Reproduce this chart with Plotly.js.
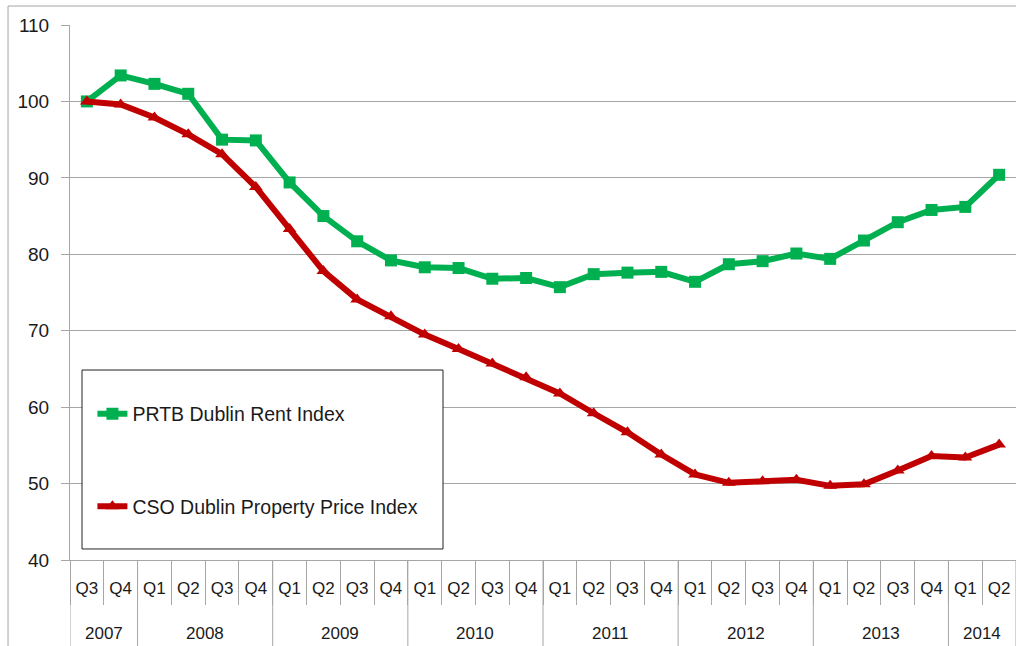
<!DOCTYPE html>
<html>
<head>
<meta charset="utf-8">
<script src="https://cdn.plot.ly/plotly-3.0.1.min.js"></script>
<style>html,body{margin:0;padding:0;background:#fff;}#chart{width:1016px;height:646px;}</style>
</head>
<body>
<div id="chart"></div>
<script>
const years = ['2007','2007','2008','2008','2008','2008','2009','2009','2009','2009','2010','2010','2010','2010','2011','2011','2011','2011','2012','2012','2012','2012','2013','2013','2013','2013','2014','2014'];
const quarters = ['Q3','Q4','Q1','Q2','Q3','Q4','Q1','Q2','Q3','Q4','Q1','Q2','Q3','Q4','Q1','Q2','Q3','Q4','Q1','Q2','Q3','Q4','Q1','Q2','Q3','Q4','Q1','Q2'];
const rentIndex = [100,103.4,102.3,101.0,95.0,94.9,89.4,85.0,81.7,79.2,78.3,78.2,76.8,76.9,75.7,77.4,77.6,77.7,76.4,78.7,79.1,80.1,79.4,81.8,84.2,85.8,86.2,90.4];
const priceIndex = [100,99.6,97.9,95.7,93.1,88.8,83.3,77.8,74.1,71.9,69.5,67.6,65.7,63.9,61.8,59.2,56.7,53.8,51.2,50.1,50.3,50.5,49.7,49.9,51.7,53.6,53.4,55.1];
const rentName = 'PRTB Dublin Rent Index';
const priceName = 'CSO Dublin Property Price Index';
const yTicks = [40,50,60,70,80,90,100,110];

const font = 'Liberation Sans, Arial, sans-serif';
const textColor = '#1a1a1a';
const axisGray = '#a6a6a6';
const idx = quarters.map((q, i) => i);

// category boundaries (quarter separators) and year groups, derived from the arrays
const quarterBounds = idx.map(i => i - 0.5).concat([idx.length - 0.5]);
const yearGroups = [];
years.forEach((y, i) => {
  const g = yearGroups[yearGroups.length - 1];
  if (g && g.year === y) g.last = i; else yearGroups.push({year: y, first: i, last: i});
});
const yearBounds = yearGroups.map(g => g.first - 0.5).concat([idx.length - 0.5]);

const yearLabels = yearGroups.map(g => ({
  x: (g.first + g.last) / 2, xref: 'x', y: -0.137, yref: 'paper', yanchor: 'middle',
  text: g.year, showarrow: false, font: {family: font, size: 17, color: textColor}
}));
const yearDividers = yearBounds.map(b => ({
  type: 'line', xref: 'x', yref: 'paper', x0: b, x1: b, y0: 0, y1: -0.17,
  line: {color: axisGray, width: 1}
}));

const traces = [
  {x: idx, y: rentIndex, name: rentName, type: 'scatter', mode: 'lines+markers',
   legendgroup: 'a', line: {color: '#00B050', width: 6}, marker: {symbol: 'square', size: 12, color: '#00B050'}},
  {x: idx, y: priceIndex, name: priceName, type: 'scatter', mode: 'lines+markers',
   legendgroup: 'b', line: {color: '#C00000', width: 6}, marker: {symbol: 'triangle-up', size: 12, color: '#C00000'}}
];
const layout = {
  width: 1016, height: 646,
  margin: {l: 70, r: 0, t: 25, b: 86},
  paper_bgcolor: '#fff', plot_bgcolor: '#fff',
  font: {family: font, size: 16, color: textColor},
  showlegend: true,
  legend: {x: 0.0237, y: 0.309, xanchor: 'left', yanchor: 'top', bgcolor: 'rgba(0,0,0,0)', borderwidth: 0,
           traceorder: 'grouped', tracegroupgap: 64, font: {family: font, size: 19.5, color: textColor}, itemwidth: 30},
  xaxis: {range: [-0.5, idx.length - 0.5], showgrid: false, zeroline: false, showline: true, linecolor: axisGray, linewidth: 1,
          tickvals: idx, ticktext: quarters, ticks: '', ticklabelstandoff: 13,
          minor: {tickvals: quarterBounds, ticks: 'outside', ticklen: 44, tickcolor: axisGray, tickwidth: 1, showgrid: false},
          tickfont: {family: font, size: 17, color: textColor}, fixedrange: true},
  yaxis: {range: [40, 110], tickvals: yTicks, showgrid: true, gridcolor: axisGray, gridwidth: 1,
          showline: true, linecolor: axisGray, linewidth: 1, ticks: 'outside', ticklen: 8, tickcolor: axisGray,
          zeroline: false, tickfont: {family: font, size: 19, color: textColor}, ticklabelstandoff: 8},
  annotations: yearLabels,
  shapes: [
    {type: 'rect', xref: 'paper', yref: 'paper', x0: -0.0655, x1: 1.01, y0: -0.3, y1: 1.0355,
     line: {color: axisGray, width: 1}, fillcolor: 'rgba(0,0,0,0)', layer: 'below'},
    {type: 'rect', xref: 'paper', yref: 'paper', x0: 0.0127, x1: 0.3943, y0: 0.0206, y1: 0.3551,
     line: {color: '#222', width: 1}, fillcolor: '#fff', layer: 'above'}
  ].concat(yearDividers)
};
Plotly.newPlot('chart', traces, layout, {displayModeBar: false, staticPlot: true});
</script>
</body>
</html>
